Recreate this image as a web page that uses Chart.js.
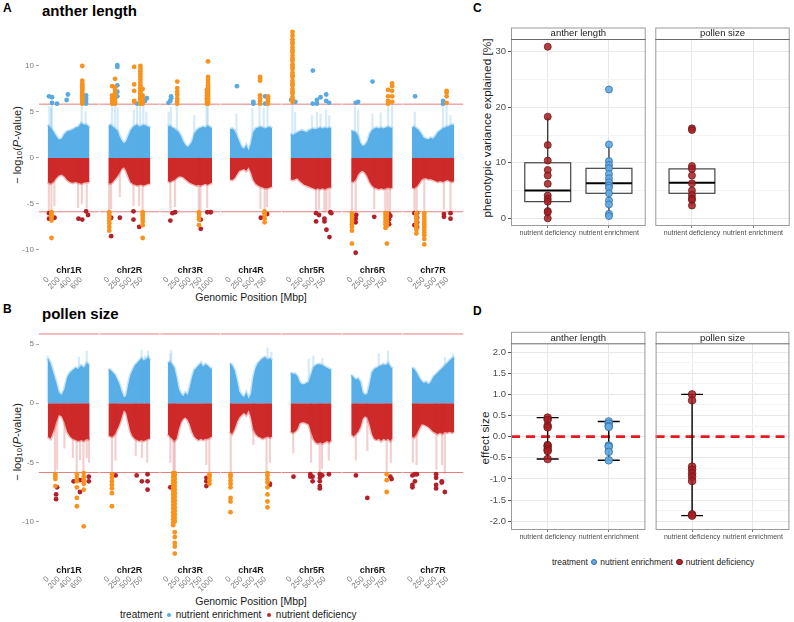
<!DOCTYPE html>
<html>
<head>
<meta charset="utf-8">
<title>GWAS anther length / pollen size</title>
<script src="https://cdn.jsdelivr.net/npm/chart.js@4.4.1/dist/chart.umd.min.js"></script>
<style>
  body { margin: 0; width: 794px; height: 622px; position: relative; overflow: hidden; background: #fff;
         font-family: "Liberation Sans", Arial, sans-serif; color: #1a1a1a; }
  canvas { position: absolute; }
  .txt { position: absolute; white-space: nowrap; line-height: 1; }
  .tag { font-weight: bold; font-size: 12px; color: #000; }
  .ttl { font-weight: bold; font-size: 15px; color: #000; }
  .ax { font-size: 10.5px; transform: translateX(-50%); }
  .yt { font-size: 11px; transform: translate(-50%, -50%) rotate(-90deg); }
  .yt sub { font-size: 0.72em; vertical-align: -0.25em; line-height: 0; }
  .leg { display: flex; align-items: center; }
  .dot { display: inline-block; border-radius: 50%; box-sizing: border-box; }
</style>
</head>
<body>
<div class="txt tag" style="left:3px;top:2px">A</div>
<div class="txt ttl" style="left:42px;top:2.5px">anther length</div>
<div class="txt tag" style="left:3px;top:303px">B</div>
<div class="txt ttl" style="left:42px;top:306px">pollen size</div>
<div class="txt tag" style="left:473px;top:1.5px">C</div>
<div class="txt tag" style="left:473px;top:304.5px">D</div>

<div class="txt yt" style="left:17px;top:145px">− log<sub>10</sub>(<i>P</i>-value)</div>
<div class="txt yt" style="left:17px;top:442px">− log<sub>10</sub>(<i>P</i>-value)</div>
<div class="txt ax" style="left:251px;top:291.5px">Genomic Position [Mbp]</div>
<div class="txt ax" style="left:251px;top:595.5px">Genomic Position [Mbp]</div>
<div class="txt yt" style="left:487.5px;top:128px;font-size:11.8px">phenotypic variance explained [%]</div>
<div class="txt yt" style="left:486px;top:437.5px;font-size:11.8px">effect size</div>

<div class="txt leg" style="left:120px;top:609.5px;font-size:10px">treatment<span class="dot" style="width:4px;height:4px;background:#56b0e8;margin:0 4.5px 0 5px"></span>nutrient enrichment<span class="dot" style="width:4px;height:4px;background:#c0262b;margin:0 5px 0 5.5px"></span>nutrient deficiency</div>
<div class="txt leg" style="left:552px;top:557.8px;font-size:8.5px">treatment<span class="dot" style="width:6.5px;height:6.5px;background:#66abe0;border:0.8px solid #2f6ea8;margin:0 2.8px 0 3px"></span>nutrient enrichment<span class="dot" style="width:6.5px;height:6.5px;background:#b02a2e;border:0.8px solid #6e1518;margin:0 2.8px 0 3.5px"></span>nutrient deficiency</div>

<script>
// ---- Manhattan plots (A, B) ----
const chrNames = ['chr1R', 'chr2R', 'chr3R', 'chr4R', 'chr5R', 'chr6R', 'chr7R'];
const chrLength = [760, 960, 1020, 900, 930, 920, 900];
const chrTicks = [
  [0, 200, 400, 600], [0, 250, 500, 750], [0, 250, 500, 750, 1000],
  [0, 250, 500, 750], [0, 250, 500, 750], [0, 250, 500, 750], [0, 250, 500, 750]
];
const envStep = 50; // Mbp between samples of the dense point cloud edge

// upper edge of the dense nutrient enrichment cloud, -log10(P)
const antherUpperEdge = [
  [3.6, 3.3, 2.9, 2.4, 2.0, 2.1, 2.6, 2.9, 3.0, 3.1, 3.3, 3.4, 3.8, 3.6, 3.6, 3.3],
  [3.5, 3.6, 3.4, 3.2, 3.0, 2.4, 1.9, 1.6, 1.8, 2.4, 3.0, 3.3, 3.5, 3.6, 3.4, 3.5, 3.6, 3.5, 3.4, 3.3],
  [3.4, 3.5, 3.3, 3.2, 3.0, 2.8, 2.4, 1.8, 1.4, 1.2, 1.4, 1.8, 2.6, 3.0, 3.2, 3.3, 3.4, 3.3, 3.5, 3.4, 3.2],
  [3.1, 3.2, 3.0, 2.4, 1.8, 1.2, 1.0, 1.4, 0.8, 1.6, 2.8, 3.2, 3.3, 3.4, 3.3, 3.2, 3.3, 3.4, 3.2],
  [2.6, 2.5, 2.6, 2.8, 2.9, 3.0, 2.9, 2.8, 3.0, 3.1, 3.2, 3.1, 3.2, 3.3, 3.2, 3.3, 3.2, 3.3, 3.2],
  [3.0, 2.9, 2.8, 2.4, 1.6, 1.3, 1.4, 1.8, 2.6, 3.0, 3.2, 3.3, 3.2, 3.3, 3.2, 3.3, 3.4, 3.3, 3.2],
  [3.3, 3.4, 3.2, 3.0, 2.6, 2.2, 2.1, 2.0, 2.2, 2.1, 2.4, 2.8, 3.0, 3.2, 3.3, 3.4, 3.5, 3.6, 3.6]
];
// lower edge of the dense nutrient deficiency cloud (plotted negative)
const antherLowerEdge = [
  [-2.6, -2.8, -2.6, -2.2, -1.9, -1.8, -2.0, -2.4, -2.6, -2.7, -2.6, -2.7, -2.8, -2.7, -2.6, -2.6],
  [-2.7, -2.8, -2.6, -2.3, -2.0, -1.6, -1.2, -1.0, -1.4, -2.0, -2.6, -2.8, -2.9, -3.0, -2.9, -2.9, -3.0, -2.9, -2.8, -2.8],
  [-2.5, -2.6, -2.5, -2.4, -2.2, -2.0, -2.0, -2.1, -2.3, -2.5, -2.7, -2.8, -2.9, -3.0, -2.9, -3.0, -2.9, -2.8, -2.9, -2.8, -2.7],
  [-2.3, -2.4, -2.2, -1.8, -1.4, -1.3, -1.2, -1.4, -1.0, -1.6, -2.4, -2.8, -3.0, -3.1, -3.2, -3.3, -3.3, -3.2, -3.1],
  [-2.3, -2.4, -2.3, -2.2, -2.5, -2.7, -2.9, -3.0, -3.1, -3.2, -3.3, -3.4, -3.3, -3.4, -3.3, -3.4, -3.3, -3.2, -3.2],
  [-2.5, -2.6, -2.3, -1.8, -1.5, -1.4, -1.6, -2.0, -2.6, -3.0, -3.2, -3.3, -3.4, -3.3, -3.4, -3.3, -3.2, -3.3, -3.2],
  [-3.2, -3.3, -3.1, -2.8, -2.4, -2.2, -2.2, -2.3, -2.3, -2.4, -2.5, -2.6, -2.5, -2.6, -2.5, -2.4, -2.5, -2.6, -2.5]
];
const pollenUpperEdge = [
  [3.8, 3.4, 2.6, 1.8, 0.9, 0.7, 1.2, 2.2, 2.6, 2.8, 3.0, 2.9, 3.2, 3.0, 3.4, 3.2],
  [2.9, 2.8, 2.6, 2.4, 2.0, 1.6, 1.0, 0.5, 0.6, 1.6, 2.4, 2.8, 3.2, 3.4, 3.6, 3.8, 3.6, 3.7, 3.9, 3.6],
  [3.4, 3.5, 3.3, 3.0, 2.2, 1.2, 0.8, 0.6, 0.9, 0.7, 1.4, 2.2, 2.8, 3.0, 3.2, 3.4, 3.1, 3.3, 3.2, 3.0, 2.9],
  [3.4, 3.2, 2.8, 2.0, 1.0, 0.7, 0.5, 0.9, 0.4, 0.8, 2.2, 3.0, 3.4, 3.6, 3.8, 3.9, 3.7, 3.8, 3.6],
  [2.6, 2.5, 2.5, 2.3, 1.8, 1.6, 1.6, 1.7, 1.8, 2.4, 3.0, 3.2, 3.3, 3.3, 3.2, 3.1, 3.0, 2.9, 2.8],
  [2.4, 2.2, 2.0, 2.1, 1.8, 0.9, 0.7, 0.8, 1.6, 2.6, 2.9, 3.0, 3.1, 3.2, 3.3, 3.2, 3.4, 3.1, 2.9],
  [3.0, 2.9, 2.6, 2.2, 1.9, 1.7, 1.8, 1.6, 1.8, 2.2, 2.4, 2.6, 2.8, 3.0, 3.2, 3.4, 3.6, 3.8, 3.9]
];
const pollenLowerEdge = [
  [-2.8, -3.0, -2.4, -1.6, -1.0, -1.1, -1.6, -2.4, -2.8, -3.0, -3.1, -3.2, -3.1, -3.2, -3.0, -3.1],
  [-2.7, -2.8, -2.8, -2.6, -2.2, -1.8, -1.2, -0.6, -0.8, -1.6, -2.4, -2.8, -3.0, -3.1, -3.2, -3.1, -3.2, -3.1, -3.0, -3.0],
  [-2.6, -2.8, -3.0, -3.2, -3.0, -2.2, -1.6, -1.3, -1.2, -1.4, -1.8, -2.4, -2.8, -3.0, -3.1, -3.0, -3.1, -3.0, -3.0, -2.9, -2.8],
  [-2.4, -2.6, -2.2, -1.6, -1.2, -1.0, -0.8, -1.0, -0.6, -1.2, -2.2, -2.6, -2.8, -2.9, -3.0, -2.9, -2.8, -2.9, -2.8],
  [-2.4, -2.5, -2.4, -2.2, -1.7, -1.6, -1.6, -1.7, -1.8, -2.4, -3.0, -3.3, -3.4, -3.3, -3.4, -3.3, -3.2, -3.3, -3.1],
  [-2.6, -2.8, -2.6, -2.4, -2.0, -1.3, -1.1, -1.2, -1.8, -2.6, -3.0, -3.1, -3.0, -3.2, -3.0, -3.1, -3.0, -3.2, -2.9],
  [-2.8, -2.9, -2.6, -2.2, -1.8, -1.8, -1.9, -2.0, -2.2, -2.4, -2.5, -2.6, -2.5, -2.6, -2.4, -2.5, -2.4, -2.5, -2.4]
];

// faint streaks reaching out of the cloud: [chromosome, Mbp, tip]
const antherStreaks = [
  [0, 30, 5.6], [0, 60, 5.4], [0, 75, 5.8], [0, 610, 5.8], [0, 680, 5.0],
  [1, 80, 5.7], [1, 150, 5.8], [1, 210, 5.5], [1, 575, 5.2], [1, 650, 5.6], [1, 720, 5.9], [1, 790, 5.9], [1, 860, 5.0],
  [2, 20, 5.0], [2, 70, 5.5], [2, 206, 5.9], [2, 600, 4.6], [2, 880, 5.8], [2, 905, 5.9],
  [3, 140, 4.8], [3, 480, 5.4], [3, 630, 5.9], [3, 720, 5.4], [3, 800, 5.9],
  [4, 40, 5.9], [4, 100, 5.0], [4, 470, 4.6], [4, 580, 5.0], [4, 660, 4.8], [4, 780, 5.2], [4, 850, 4.6],
  [5, 80, 5.6], [5, 150, 5.2], [5, 460, 4.8], [5, 640, 4.9], [5, 800, 5.9], [5, 888, 5.9],
  [6, 60, 5.0], [6, 660, 5.8], [6, 737, 5.9], [6, 820, 4.6],
  [0, 20, -5.8], [0, 67, -5.9], [0, 120, -5.2], [0, 545, -5.4], [0, 612, -5.0], [0, 700, -5.5],
  [1, 15, -5.9], [1, 60, -5.5], [1, 258, -4.2], [1, 567, -5.2], [1, 696, -5.2], [1, 775, -5.9],
  [2, 60, -5.6], [2, 165, -5.3], [2, 700, -5.9], [2, 740, -5.6], [2, 890, -5.4],
  [3, 650, -5.5], [3, 740, -5.9], [3, 790, -5.3],
  [4, 561, -5.9], [4, 626, -5.6], [4, 745, -5.9], [4, 789, -5.7], [4, 855, -5.9],
  [5, 16, -5.9], [5, 97, -5.9], [5, 500, -5.5], [5, 740, -5.9], [5, 790, -5.9], [5, 840, -5.8],
  [6, 53, -5.9], [6, 100, -5.9], [6, 263, -5.9], [6, 680, -5.6], [6, 820, -5.7]
];
const pollenStreaks = [
  [0, 0, 4.0], [0, 560, 3.9], [0, 700, 4.4], [1, 750, 4.5], [1, 830, 4.0], [1, 900, 4.4],
  [2, 60, 4.2], [2, 80, 4.5], [3, 800, 4.7], [3, 880, 4.3], [4, 400, 3.7], [4, 500, 4.0], [4, 700, 3.8],
  [5, 600, 4.2], [5, 800, 4.4], [6, 700, 3.9], [6, 880, 4.2],
  [0, 130, -5.9], [0, 170, -5.6], [0, 300, -3.8], [0, 450, -4.6], [0, 520, -5.9], [0, 580, -4.8], [0, 640, -5.9], [0, 700, -4.6], [0, 740, -5.0],
  [1, 80, -5.9], [1, 160, -4.8], [1, 620, -4.4], [1, 760, -4.6], [1, 880, -5.0],
  [2, 60, -5.0], [2, 130, -5.9], [2, 160, -5.9], [2, 870, -5.2], [2, 940, -5.9],
  [3, 20, -5.9], [3, 500, -3.5], [3, 780, -5.9], [3, 850, -5.0],
  [4, 60, -4.2], [4, 450, -5.0], [4, 640, -5.9], [4, 690, -5.5], [4, 840, -4.8],
  [5, 100, -4.8], [5, 350, -4.0], [5, 770, -5.9], [5, 860, -5.0],
  [6, 20, -5.0], [6, 100, -5.2], [6, 520, -5.6], [6, 640, -5.2], [6, 700, -5.9]
];

// significant markers: [chromosome, Mbp, [-log10(P) values]]
const antherEnrichHits = [
  [0, 23, [6.7]], [0, 77, [6.0, 6.6]], [0, 167, [5.9]], [0, 339, [6.3]], [0, 362, [6.9]], [0, 688, [5.9, 6.2, 6.5, 6.8]],
  [1, 202, [6.7, 7.2, 7.9, 9.9, 10.1]], [1, 652, [5.9]], [1, 830, [6.2]], [1, 870, [6.5]],
  [2, 18, [6.0]], [2, 59, [6.2]], [2, 77, [6.5, 6.7]],
  [3, 151, [7.8]], [3, 500, [5.9, 6.1]], [3, 750, [5.9, 6.7]],
  [4, 16, [6.3]], [4, 108, [6.1]], [4, 490, [9.5, 5.9]], [4, 580, [5.9, 6.3]], [4, 660, [6.6]], [4, 783, [6.2, 6.9]], [4, 848, [6.0]],
  [5, 97, [6.0]], [5, 150, [6.1]], [5, 463, [8.3]],
  [6, 68, [6.7]], [6, 663, [5.9, 6.0, 6.2]]
];
const antherHighlightUp = [
  [0, 620, [5.9, 6.1, 6.3, 6.5, 6.7, 6.9, 7.1, 7.3, 7.5, 7.7, 7.9, 8.1, 8.4, 10.0]],
  [1, 85, [5.9, 6.2, 6.5, 6.8, 7.8]],
  [1, 150, [5.9, 6.2, 6.5, 6.8, 7.1, 7.4, 7.7, 8.6]],
  [1, 584, [6.1, 6.2, 7.3, 8.0, 9.9]],
  [1, 725, [5.9, 6.1, 6.3, 6.5, 6.7, 6.9, 7.1, 7.3, 7.5, 7.7, 7.9, 8.2, 8.5, 8.8, 9.1, 9.4, 9.7, 10.0]],
  [1, 775, [5.9, 6.2, 6.5, 6.8, 7.5]],
  [2, 215, [5.9, 6.2, 6.5, 6.9, 7.2, 7.6, 8.3]],
  [2, 885, [5.9, 6.2, 6.5, 6.8, 7.1, 7.4]],
  [2, 910, [5.9, 6.1, 6.3, 6.5, 6.7, 6.9, 7.1, 7.3, 7.5, 7.7, 7.9, 8.2, 8.5, 8.8, 10.5]],
  [3, 643, [5.9, 6.2, 6.5, 6.8, 8.4, 8.6, 8.8]],
  [3, 810, [5.9, 6.1, 6.3, 6.5, 6.7]],
  [4, 44, [6.1, 6.3, 6.6, 7.0, 7.2, 7.5, 7.9, 8.1, 8.4, 8.8, 9.0, 9.3, 9.7, 9.9, 10.2, 10.6, 10.8, 11.1, 11.5, 11.7, 12.0, 12.4, 12.6, 12.9, 13.3, 13.7]],
  [5, 800, [5.9, 6.2, 6.7, 7.4]],
  [5, 888, [6.1, 6.7, 7.3, 7.8, 8.1]],
  [6, 737, [6.0, 6.7, 7.1, 7.3]]
];
const antherDeficHits = [
  [0, 23, [-6.0, -6.6]], [0, 122, [-6.5]], [0, 552, [-6.6]], [0, 620, [-6.7]], [0, 688, [-5.8]], [0, 723, [-6.2]],
  [1, 62, [-6.5, -8.5]], [1, 259, [-6.5]], [1, 568, [-5.8, -6.7]], [1, 697, [-7.5]],
  [2, 60, [-6.8]], [2, 107, [-6.0]], [2, 168, [-5.9]], [2, 746, [-6.7, -7.7]], [2, 894, [-5.9]], [2, 971, [-5.9]],
  [3, 659, [-6.5]], [3, 793, [-6.1]],
  [4, 561, [-6.0, -6.9]], [4, 626, [-6.2]], [4, 745, [-6.6, -6.9]], [4, 789, [-7.8]], [4, 855, [-8.6]], [4, 875, [-5.9]], [4, 895, [-6.0]],
  [5, 97, [-6.6, -7.0, -10.3]], [5, 110, [-6.2]], [5, 500, [-6.4]], [5, 823, [-6.1, -6.7, -7.2]], [5, 850, [-6.3]],
  [6, 53, [-6.0, -7.3]], [6, 110, [-6.0, -6.5, -7.0, -7.5]], [6, 680, [-6.1, -6.4]], [6, 820, [-6.0, -6.6]]
];
const antherHighlightDown = [
  [0, 68, [-5.9, -6.1, -6.3, -6.5, -6.8, -8.7]],
  [1, 20, [-5.9, -6.2, -6.5, -6.8, -7.1, -7.5, -7.9]],
  [1, 777, [-5.9, -6.1, -6.3, -6.6, -6.9, -7.3, -8.7]],
  [2, 706, [-5.9, -6.1, -6.4, -6.7, -7.3]],
  [3, 739, [-5.8, -6.0, -6.2, -6.6, -7.0]],
  [5, 16, [-6.0, -6.3, -6.6, -6.9, -7.2, -7.5, -7.9, -9.3]],
  [5, 745, [-6.0, -6.3, -6.6, -6.9, -7.2, -7.6]],
  [5, 775, [-6.0, -6.2, -6.5, -6.8, -7.1, -7.4, -9.3]],
  [6, 95, [-6.0, -6.3, -6.6, -6.9, -7.2, -7.5, -7.8, -8.2]],
  [6, 263, [-6.0, -6.3, -6.6, -6.9, -7.2, -7.5, -7.8, -8.1, -8.4, -8.8, -9.4]]
];
const pollenEnrichHits = [];
const pollenHighlightUp = [];
const pollenDeficHits = [
  [0, 150, [-7.7, -8.1]], [0, 168, [-7.1]], [0, 464, [-6.6]], [0, 578, [-6.5, -7.5]], [0, 737, [-6.2, -6.6]],
  [1, 163, [-6.1]], [1, 640, [-6.1]], [1, 758, [-6.6]], [1, 887, [-6.0, -6.6, -7.3]],
  [2, 59, [-7.1]], [2, 873, [-6.3, -6.6, -7.0]],
  [3, 850, [-6.8, -6.9]],
  [4, 65, [-6.2]], [4, 436, [-6.0, -6.2]], [4, 485, [-6.2, -6.6]], [4, 643, [-6.0, -6.3, -6.6, -7.0, -7.2]], [4, 697, [-6.1]], [4, 843, [-6.0]],
  [5, 102, [-6.1]], [5, 350, [-8.0]], [5, 850, [-6.2]], [5, 877, [-6.4]],
  [6, 11, [-6.1, -6.9, -7.1]], [6, 64, [-6.0, -6.6]], [6, 106, [-6.0]], [6, 514, [-6.0, -6.3, -6.9, -7.2]], [6, 635, [-6.6, -6.7]], [6, 699, [-7.5]]
];
const pollenHighlightDown = [
  [0, 137, [-6.0, -6.2, -6.4, -7.0]],
  [0, 523, [-6.0, -6.3, -6.6, -7.1, -8.0, -8.7]],
  [0, 646, [-5.9, -6.2, -6.5, -6.8, -7.3, -10.4]],
  [1, 79, [-6.0, -6.3, -6.6, -6.9, -7.2, -7.6, -8.7]],
  [2, 124, [-5.9, -6.2, -6.5, -6.8, -7.1, -7.4, -7.7, -8.0, -8.3, -8.6, -8.9, -9.2, -9.5, -9.8, -10.1, -10.3]],
  [2, 160, [-5.9, -6.1, -6.4, -6.7, -7.0, -7.3, -7.6, -7.9, -8.2, -8.5, -8.8, -9.1, -9.4, -9.7, -10.0, -10.9, -11.3, -11.8, -12.1, -12.7]],
  [2, 943, [-6.0, -6.2, -6.5, -6.8]],
  [3, 15, [-6.0, -6.2, -6.5, -6.8, -7.1, -8.0, -8.3, -9.2]],
  [3, 800, [-5.9, -6.1, -6.4, -6.7, -7.1, -7.7, -8.3, -8.8]],
  [5, 770, [-6.0, -6.5, -7.5]]
];
const antherThreshold = 5.85;
const pollenThreshold = 5.85;
const antherYTicks = [-10, -5, 0, 5, 10];
const pollenYTicks = [-10, -5, 0, 5];

// ---- QTL summaries (C, D) ----
const treatments = ['nutrient deficiency', 'nutrient enrichment'];
const pveAntherDef = [30.9, 18.3, 13.2, 10.4, 8.7, 7.7, 6.2, 4.1, 3.5, 3.0, 1.3, 1.1, 0.0];
const pveAntherEnr = [23.2, 13.3, 10.3, 9.6, 9.0, 8.0, 7.2, 6.5, 5.9, 5.5, 4.5, 3.2, 2.5, 0.8, 0.4];
const pvePollenDef = [16.2, 15.9, 9.4, 8.9, 7.7, 6.3, 5.0, 4.2, 3.6, 3.3, 2.3];
// box: [lower whisker, q1, median, q3, upper whisker]
const boxAntherDef = [0.0, 3.0, 5.0, 10.0, 18.3];
const boxAntherEnr = [0.4, 4.5, 6.3, 9.0, 13.3];
const boxPollenDef = [2.3, 4.5, 6.4, 8.9, 9.4];
const pveMajorTicks = [0, 10, 20, 30];
const pveMinorTicks = [5, 15, 25];

const effAntherDef = [0.45, 0.40, 0.26, 0.22, -0.20, -0.23, -0.30, -0.34, -0.53];
const effAntherEnr = [0.36, 0.31, 0.25, 0.23, -0.21, -0.24, -0.36, -0.56];
const effPollenDef = [1.0, 0.86, -0.71, -0.78, -0.87, -0.95, -1.05, -1.84, -1.87];
// range: [min, max]
const rangeAntherDef = [-0.53, 0.45];
const rangeAntherEnr = [-0.56, 0.36];
const rangePollenDef = [-1.87, 1.0];
const effMajorTicks = [-2, -1.5, -1, -0.5, 0, 0.5, 1, 1.5, 2];
const effMinorTicks = [-1.75, -1.25, -0.75, -0.25, 0.25, 0.75, 1.25, 1.75];

const FONT = '"Liberation Sans", Arial, sans-serif';
Chart.defaults.font.family = FONT;

const BLUE_CORE = '#58aee6';
const RED_CORE = '#cf2a2a';
const BLUE_HIT = '#5aa9e0';
const RED_HIT = '#b3202a';
const ORANGE = '#f7931e';

function placeCanvas(left, top, width, height) {
  const c = document.createElement('canvas');
  c.width = width;
  c.height = height;
  c.style.left = left + 'px';
  c.style.top = top + 'px';
  c.style.width = width + 'px';
  c.style.height = height + 'px';
  document.body.appendChild(c);
  return c;
}

// canvas placed so the chart area lands exactly on plot rect
function frame(plot, yW, xH, padL, padR, padT) {
  const cl = Math.floor(plot.left - yW - padL);
  const ct = Math.floor(plot.top - padT);
  const cw = Math.ceil(plot.right + padR) - cl;
  const ch = Math.ceil(plot.bottom + xH) - ct;
  return {
    canvas: placeCanvas(cl, ct, cw, ch),
    padding: {
      left: plot.left - yW - cl,
      right: cl + cw - plot.right,
      top: plot.top - ct,
      bottom: ch - xH - (plot.bottom - ct)
    }
  };
}

const hlinePlugin = {
  id: 'hlines',
  beforeDatasetsDraw(chart, args, opts) {
    const { ctx, chartArea: a, scales: { y } } = chart;
    (opts.lines || []).forEach(l => {
      const py = y.getPixelForValue(l.y);
      ctx.save();
      ctx.strokeStyle = l.color;
      ctx.lineWidth = l.width;
      ctx.setLineDash(l.dash || []);
      ctx.beginPath();
      ctx.moveTo(a.left, py);
      ctx.lineTo(a.right, py);
      ctx.stroke();
      ctx.restore();
    });
  }
};

const chrLabelPlugin = {
  id: 'chrLabel',
  afterDraw(chart, args, opts) {
    const { ctx, chartArea: a } = chart;
    ctx.save();
    ctx.fillStyle = '#1a1a1a';
    ctx.font = 'bold 9px ' + FONT;
    ctx.textAlign = 'center';
    ctx.textBaseline = 'alphabetic';
    ctx.fillText(opts.text, (a.left + a.right) / 2, a.bottom + 13.4);
    ctx.restore();
  }
};

const facetPlugin = {
  id: 'facet',
  afterDraw(chart, args, opts) {
    const { ctx, chartArea: a } = chart;
    ctx.save();
    ctx.strokeStyle = '#9a9a9a';
    ctx.lineWidth = 1;
    ctx.strokeRect(a.left + 0.5, a.top - opts.stripH + 0.5, a.right - a.left - 1, a.bottom - a.top + opts.stripH - 1);
    ctx.strokeStyle = '#6a6a6a';
    ctx.beginPath();
    ctx.moveTo(a.left, a.top + 0.5);
    ctx.lineTo(a.right, a.top + 0.5);
    ctx.stroke();
    ctx.fillStyle = '#1a1a1a';
    ctx.font = '9.5px ' + FONT;
    ctx.textAlign = 'center';
    ctx.textBaseline = 'middle';
    ctx.fillText(opts.text, (a.left + a.right) / 2, a.top - opts.stripH / 2 + 0.5);
    ctx.restore();
  }
};

const boxPlugin = {
  id: 'boxes',
  beforeDatasetsDraw(chart, args, opts) {
    const { ctx, scales: { x, y } } = chart;
    const unit = x.getPixelForValue(1) - x.getPixelForValue(0);
    (opts.items || []).forEach(b => {
      const cx = x.getPixelForValue(b.x);
      const hw = unit * opts.width / 2;
      const [lo, q1, med, q3, hi] = b.stats.map(v => y.getPixelForValue(v));
      ctx.save();
      ctx.strokeStyle = '#222';
      ctx.lineWidth = 1.2;
      ctx.beginPath();
      ctx.moveTo(cx, lo); ctx.lineTo(cx, q1);
      ctx.moveTo(cx, q3); ctx.lineTo(cx, hi);
      ctx.stroke();
      ctx.strokeStyle = '#444';
      ctx.strokeRect(cx - hw, q3, 2 * hw, q1 - q3);
      ctx.strokeStyle = '#000';
      ctx.lineWidth = 2;
      ctx.beginPath();
      ctx.moveTo(cx - hw, med); ctx.lineTo(cx + hw, med);
      ctx.stroke();
      ctx.restore();
    });
  }
};

const rangePlugin = {
  id: 'ranges',
  beforeDatasetsDraw(chart, args, opts) {
    const { ctx, scales: { x, y } } = chart;
    const unit = x.getPixelForValue(1) - x.getPixelForValue(0);
    (opts.items || []).forEach(r => {
      const cx = x.getPixelForValue(r.x);
      const hw = unit * opts.cap / 2;
      const lo = y.getPixelForValue(r.range[0]);
      const hi = y.getPixelForValue(r.range[1]);
      ctx.save();
      ctx.strokeStyle = '#000';
      ctx.lineWidth = 1.4;
      ctx.beginPath();
      ctx.moveTo(cx, lo); ctx.lineTo(cx, hi);
      ctx.moveTo(cx - hw, lo); ctx.lineTo(cx + hw, lo);
      ctx.moveTo(cx - hw, hi); ctx.lineTo(cx + hw, hi);
      ctx.stroke();
      ctx.restore();
    });
  }
};

// ---- Manhattan panels ----
const FACET_X0 = 38.9, FACET_STEP = 60.7, FACET_W = 60, X_PAD = 0.031;

function manhattan(p) {
  chrNames.forEach((name, i) => {
    const L = chrLength[i];
    const left = FACET_X0 + FACET_STEP * i;
    const first = i === 0;
    const fr = frame({ left, right: left + FACET_W, top: p.top, bottom: p.bottom }, first ? 24 : 0, 40, first ? 2 : 14, 6, 9);

    const column = list => {
      const out = [];
      list.forEach(([c, pos, vals]) => { if (c === i) vals.forEach(v => out.push({ x: pos, y: v })); });
      return out;
    };
    const edge = vals => vals.map((v, k) => ({ x: k * envStep, y: v }));
    const streaks = sign => p.streaks
      .filter(s => s[0] === i && Math.sign(s[2]) === sign)
      .map(s => ({ x: s[1], y: [0, s[2]] }));

    const dot = { type: 'scatter', pointRadius: 2.4, borderWidth: 0, pointHoverRadius: 2.4 };
    const datasets = [
      { ...dot, data: column(p.highUp), backgroundColor: ORANGE, order: 0 },
      { ...dot, data: column(p.highDown), backgroundColor: ORANGE, order: 0 },
      { ...dot, data: column(p.enrHits), backgroundColor: BLUE_HIT, order: 1 },
      { ...dot, data: column(p.defHits), backgroundColor: RED_HIT, order: 1 },
      { type: 'bar', data: streaks(1), backgroundColor: 'rgba(88,174,230,0.25)', barThickness: 1.5, grouped: false, order: 2 },
      { type: 'bar', data: streaks(-1), backgroundColor: 'rgba(200,40,40,0.22)', barThickness: 1.5, grouped: false, order: 2 },
      { type: 'line', data: edge(p.upper[i]), fill: 'origin', backgroundColor: BLUE_CORE,
        borderColor: 'rgba(88,174,230,0.35)', borderWidth: 3, pointRadius: 0, tension: 0, order: 3 },
      { type: 'line', data: edge(p.lower[i]), fill: 'origin', backgroundColor: RED_CORE,
        borderColor: 'rgba(207,42,42,0.32)', borderWidth: 3, pointRadius: 0, tension: 0, order: 3 }
    ];

    new Chart(fr.canvas, {
      type: 'scatter',
      data: { datasets },
      options: {
        responsive: false,
        animation: false,
        devicePixelRatio: 1,
        events: [],
        layout: { padding: fr.padding },
        plugins: {
          legend: { display: false },
          tooltip: { enabled: false },
          hlines: { lines: [
            { y: p.threshold, color: '#e57f7f', width: 1 },
            { y: -p.threshold, color: '#e57f7f', width: 1 }
          ] },
          chrLabel: { text: name }
        },
        scales: {
          x: {
            type: 'linear',
            min: -X_PAD * L,
            max: (1 + X_PAD) * L,
            afterBuildTicks: s => { s.ticks = chrTicks[i].map(v => ({ value: v })); },
            ticks: { font: { size: 8 }, color: '#777', minRotation: 45, maxRotation: 45,
                     autoSkip: false, padding: 7, callback: v => String(v) },
            grid: { display: false },
            border: { display: false },
            afterFit: s => { s.height = 40; s.paddingLeft = 0; s.paddingRight = 0; }
          },
          y: {
            min: p.yMin,
            max: p.yMax,
            display: first,
            afterBuildTicks: s => { s.ticks = p.yTicks.map(v => ({ value: v })); },
            ticks: { font: { size: 8 }, color: '#777', padding: 2, callback: v => String(v) },
            grid: { drawOnChartArea: false, tickLength: 3, tickColor: '#aaa' },
            border: { display: false },
            afterFit: s => { s.width = first ? 24 : 0; s.paddingTop = 0; s.paddingBottom = 0; }
          }
        }
      },
      plugins: [hlinePlugin, chrLabelPlugin]
    });
  });
}

manhattan({
  top: 29, bottom: 260, yMin: -11.09, yMax: 14.02, yTicks: antherYTicks, threshold: antherThreshold,
  upper: antherUpperEdge, lower: antherLowerEdge, streaks: antherStreaks,
  enrHits: antherEnrichHits, defHits: antherDeficHits, highUp: antherHighlightUp, highDown: antherHighlightDown
});
manhattan({
  top: 328.3, bottom: 559.5, yMin: -13.2, yMax: 6.33, yTicks: pollenYTicks, threshold: pollenThreshold,
  upper: pollenUpperEdge, lower: pollenLowerEdge, streaks: pollenStreaks,
  enrHits: pollenEnrichHits, defHits: pollenDeficHits, highUp: pollenHighlightUp, highDown: pollenHighlightDown
});

// ---- facetted summaries ----
const DEF_STYLE = { backgroundColor: 'rgba(168,30,34,0.85)', borderColor: '#6e1518' };
const ENR_STYLE = { backgroundColor: 'rgba(100,170,225,0.92)', borderColor: '#2f6ea8' };

function facetChart(f) {
  const fr = frame(f.plot, f.first ? 40 : 0, 16, 2, f.padR, 14);
  const major = f.majorTicks;
  const allTicks = major.concat(f.minorTicks).sort((a, b) => a - b);
  new Chart(fr.canvas, {
    type: 'scatter',
    data: { datasets: f.datasets },
    options: {
      responsive: false,
      animation: false,
      devicePixelRatio: 1,
      events: [],
      layout: { padding: fr.padding },
      plugins: Object.assign({
        legend: { display: false },
        tooltip: { enabled: false },
        facet: { text: f.strip, stripH: f.stripH }
      }, f.pluginOpts),
      scales: {
        x: {
          type: 'linear',
          min: 0.4,
          max: 2.6,
          afterBuildTicks: s => { s.ticks = [1, 2].map(v => ({ value: v })); },
          ticks: { font: { size: 7 }, color: '#4d4d4d', padding: 1, callback: v => treatments[v - 1] },
          grid: { color: '#e8e8e8', tickLength: 2, tickColor: '#777' },
          border: { display: false },
          afterFit: s => { s.height = 16; s.paddingLeft = 0; s.paddingRight = 0; }
        },
        y: {
          min: f.yMin,
          max: f.yMax,
          afterBuildTicks: s => { s.ticks = allTicks.map(v => ({ value: v })); },
          ticks: {
            display: f.first,
            font: { size: 9.5 },
            color: '#4d4d4d',
            padding: 2,
            callback: v => major.includes(v) ? f.fmt(v) : ''
          },
          grid: {
            color: c => major.includes(c.tick.value) ? '#e8e8e8' : '#f4f4f4',
            tickLength: 3,
            drawTicks: f.first,
            tickColor: c => major.includes(c.tick.value) ? '#555' : 'rgba(0,0,0,0)'
          },
          border: { display: false },
          afterFit: s => { s.width = f.first ? 40 : 0; s.paddingTop = 0; s.paddingBottom = 0; }
        }
      }
    },
    plugins: [hlinePlugin, boxPlugin, rangePlugin, facetPlugin]
  });
}

const pts = (vals, x, style, r) => ({
  type: 'scatter', data: vals.map(v => ({ x, y: v })), pointRadius: r, pointHoverRadius: r,
  borderWidth: 0.8, ...style
});

const pveFmt = v => String(v);
const effFmt = v => v.toFixed(1);

// C
facetChart({
  plot: { left: 511, right: 650, top: 39, bottom: 226 }, first: true, padR: 0, stripH: 11.5,
  strip: 'anther length', yMin: -1.39, yMax: 32.3, majorTicks: pveMajorTicks, minorTicks: pveMinorTicks, fmt: pveFmt,
  datasets: [pts(pveAntherDef, 1, DEF_STYLE, 3.5), pts(pveAntherEnr, 2, ENR_STYLE, 3.5)],
  pluginOpts: { boxes: { width: 0.75, items: [{ x: 1, stats: boxAntherDef }, { x: 2, stats: boxAntherEnr }] } }
});
facetChart({
  plot: { left: 653.3, right: 793.3, top: 39, bottom: 226 }, first: false, padR: 0.5, stripH: 11.5,
  strip: 'pollen size', yMin: -1.39, yMax: 32.3, majorTicks: pveMajorTicks, minorTicks: pveMinorTicks, fmt: pveFmt,
  datasets: [pts(pvePollenDef, 1, DEF_STYLE, 3.5)],
  pluginOpts: { boxes: { width: 0.75, items: [{ x: 1, stats: boxPollenDef }] } }
});

// D
const zeroLine = { lines: [{ y: 0, color: '#e8191c', width: 2.6, dash: [9, 6] }] };
facetChart({
  plot: { left: 511, right: 650, top: 343.3, bottom: 530 }, first: true, padR: 0, stripH: 11.5,
  strip: 'anther length', yMin: -2.21, yMax: 2.21, majorTicks: effMajorTicks, minorTicks: effMinorTicks, fmt: effFmt,
  datasets: [pts(effAntherDef, 1, DEF_STYLE, 3.8), pts(effAntherEnr, 2, ENR_STYLE, 3.8)],
  pluginOpts: { hlines: zeroLine, ranges: { cap: 0.36, items: [{ x: 1, range: rangeAntherDef }, { x: 2, range: rangeAntherEnr }] } }
});
facetChart({
  plot: { left: 653.3, right: 793.3, top: 343.3, bottom: 530 }, first: false, padR: 0.5, stripH: 11.5,
  strip: 'pollen size', yMin: -2.21, yMax: 2.21, majorTicks: effMajorTicks, minorTicks: effMinorTicks, fmt: effFmt,
  datasets: [pts(effPollenDef, 1, DEF_STYLE, 3.8)],
  pluginOpts: { hlines: zeroLine, ranges: { cap: 0.36, items: [{ x: 1, range: rangePollenDef }] } }
});
</script>
</body>
</html>
